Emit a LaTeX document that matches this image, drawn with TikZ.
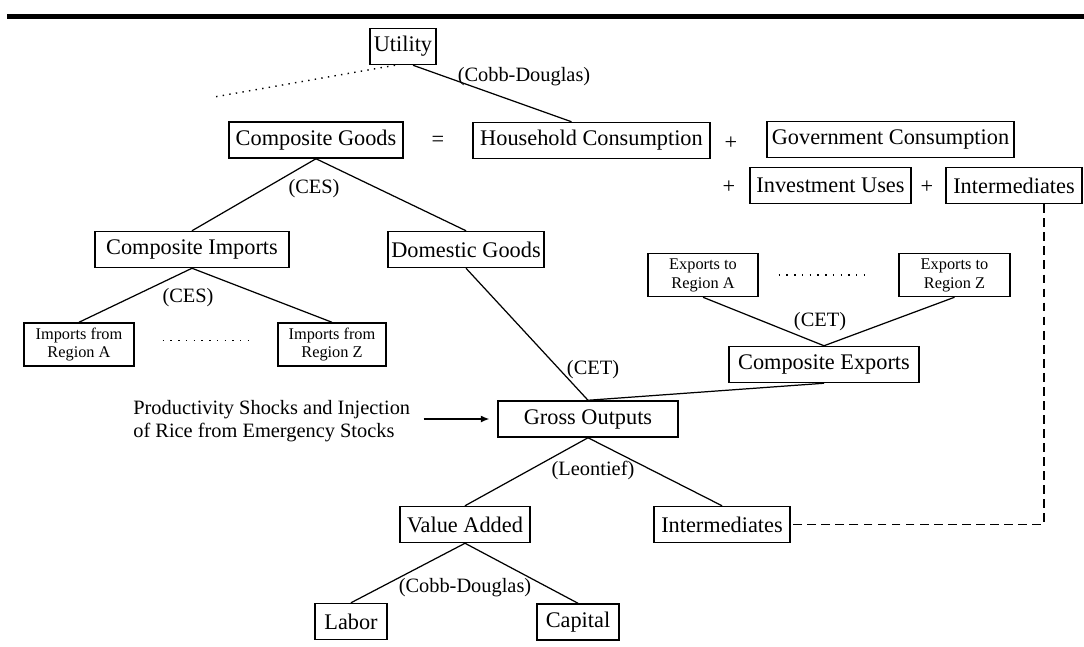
\documentclass[tikz,border=0pt]{standalone}
\usepackage{fontspec}
\setmainfont{Liberation Serif}
\usetikzlibrary{arrows.meta,positioning,calc}

\begin{document}
\begin{tikzpicture}[
    x=0.02cm, y=-0.02cm,
    box/.style={draw, line width=0.85pt, minimum height=0.72cm, inner xsep=2pt, inner ysep=1pt, font=\fontsize{12.7}{14}\selectfont},
    sbox/.style={draw, line width=0.85pt, minimum height=0.86cm, align=center, inner sep=1pt, font=\fontsize{9.3}{10.8}\selectfont},
    lab/.style={font=\fontsize{11.6}{13}\selectfont, inner sep=0pt},
    op/.style={font=\fontsize{12.7}{14}\selectfont, inner sep=0pt},
    link/.style={line width=0.7pt},
    dots/.style={line width=0.8pt, dash pattern=on 0.8pt off 3.6pt},
    arr/.style={-{Latex[length=1.7mm,width=1.4mm]}, line width=0.7pt}
]
  \useasboundingbox (0,0) rectangle (1084,646);
  % top rule
  \fill (7,14) rectangle (1084,19);

  % demand side
  \node[box, minimum width=1.32cm] (utility) at (403,46.5) {Utility};
  \coordinate (dotend) at (214,97);
  \node[lab] (cdtop) at (524,77) {(Cobb-Douglas)};

  \node[box, minimum width=3.48cm] (cgoods) at (316,140) {Composite Goods};
  \node[op] (eq) at (438,141) {=};
  \node[box, minimum width=4.74cm] (hh) at (591.5,140.5) {Household Consumption};
  \node[op] (plusa) at (731,143) {+};
  \node[box, minimum width=4.94cm] (gov) at (890.5,139.5) {Government Consumption};
  \node[op] (plusb) at (729,187) {+};
  \node[box, minimum width=3.22cm] (inv) at (830.5,185.5) {Investment Uses};
  \node[op] (plusc) at (927,187) {+};
  \node[box, minimum width=2.72cm] (inter1) at (1014,185.5) {Intermediates};

  \draw[dots, dash pattern=on 0.8pt off 3pt] ([xshift=-0.16cm]utility.south) -- (dotend);
  \draw[link] ([xshift=0.2cm]utility.south) -- ([xshift=-0.4cm]hh.north);

  % Armington nest
  \node[lab] (cesa) at (314,189) {(CES)};
  \node[box, minimum width=3.88cm] (cimp) at (192,249.5) {Composite Imports};
  \node[box, minimum width=3.12cm] (dgoods) at (466,249.5) {Domestic Goods};
  \node[lab] (cesb) at (188,298) {(CES)};
  \node[sbox, minimum width=2.2cm] (impA) at (79,344.5) {Imports from\\Region A};
  \node[sbox, minimum width=2.16cm] (impZ) at (332,344.5) {Imports from\\Region Z};

  \draw[link] (cgoods.south) -- (cimp.north);
  \draw[link] (cgoods.south) -- (dgoods.north);
  \draw[link] (cimp.south) -- (impA.north);
  \draw[link] (cimp.south) -- (impZ.north);
  \draw[dots] ([xshift=0.56cm,yshift=0.08cm]impA.east) -- ([xshift=-0.56cm,yshift=0.08cm]impZ.west);

  % exports
  \node[sbox, minimum width=2.2cm] (expA) at (703,275) {Exports to\\Region A};
  \node[sbox, minimum width=2.22cm] (expZ) at (954.5,275) {Exports to\\Region Z};
  \node[lab] (cetb) at (820,322) {(CET)};
  \node[box, minimum width=3.8cm] (cexp) at (824,364.5) {Composite Exports};

  \draw[dots] ([xshift=0.4cm]expA.east) -- ([xshift=-0.62cm]expZ.west);
  \draw[link] (expA.south) -- (cexp.north);
  \draw[link] (expZ.south) -- (cexp.north);

  % production
  \node[lab] (ceta) at (593,370) {(CET)};
  \node[box, minimum width=3.6cm] (gross) at (588,419) {Gross Outputs};
  \node[lab, align=left, anchor=west] (prod) at (133,421) {Productivity Shocks and Injection\\of Rice from Emergency Stocks};
  \node[lab] (leon) at (593,470) {(Leontief)};
  \node[box, minimum width=2.6cm] (vadd) at (465,524.5) {Value Added};
  \node[box, minimum width=2.72cm] (inter2) at (722,524.5) {Intermediates};
  \node[lab] (cdbot) at (465,588) {(Cobb-Douglas)};
  \node[box, minimum width=1.44cm] (labor) at (351,621.5) {Labor};
  \node[box, minimum width=1.64cm] (capital) at (578,622) {Capital};

  \draw[link] (dgoods.south) -- (gross.north);
  \draw[link] (cexp.south) -- (gross.north);
  \draw[arr, shorten <=0.26cm, shorten >=0.16cm] (prod.east |- gross.west) -- (gross.west);
  \draw[link] (gross.south) -- (vadd.north);
  \draw[link] (gross.south) -- (inter2.north);
  \draw[link] (vadd.south) -- (labor.north);
  \draw[link] (vadd.south) -- (capital.north);
  \draw[link, dash pattern=on 5pt off 3pt] ([xshift=0.6cm]inter1.south) |- (inter2.east);
\end{tikzpicture}
\end{document}
